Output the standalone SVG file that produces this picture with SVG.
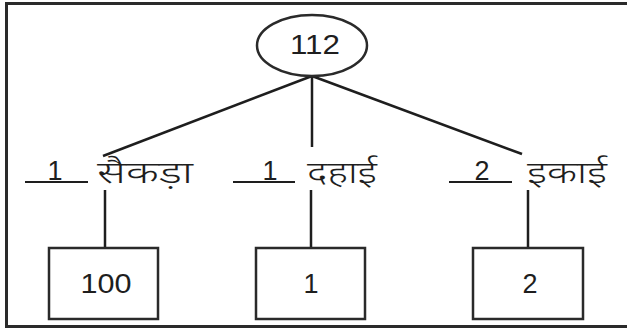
<svg xmlns="http://www.w3.org/2000/svg" width="627" height="330" viewBox="0 0 627 330">
  <style>
    .frame { fill: none; stroke: #2a2a2a; stroke-width: 3; }
    .node { fill: #ffffff; stroke: #2a2a2a; stroke-width: 2.5; }
    .edge { stroke: #1e1e1e; stroke-width: 2.5; fill: none; }
    .under { stroke: #1e1e1e; stroke-width: 2; }
    .num { font-family: "Liberation Sans", Arial, sans-serif; font-size: 27px; fill: #1e1e1e; text-anchor: middle; }
    .hi { font-family: "Noto Sans Devanagari", "Noto Sans", "Lohit Devanagari", sans-serif; font-size: 31px; font-weight: 300; fill: #1e1e1e; }
  </style>
  <rect width="627" height="330" fill="#ffffff"/>
  <path class="frame" d="M640 3.5 H6.5 V326.5 H640"/>

  <g id="connectors">
    <line class="edge" x1="312" y1="76" x2="103" y2="156"/>
    <line class="edge" x1="312" y1="76" x2="312" y2="147"/>
    <line class="edge" x1="312" y1="76" x2="522" y2="154"/>
    <line class="edge" x1="105" y1="190" x2="105" y2="248"/>
    <line class="edge" x1="311" y1="190" x2="311" y2="248"/>
    <line class="edge" x1="528" y1="190" x2="528" y2="248"/>
  </g>

  <g id="n112">
    <ellipse class="node" cx="312" cy="45.5" rx="55" ry="30.5"/>
    <text class="num" x="315" y="54" textLength="50" lengthAdjust="spacingAndGlyphs">112</text>
  </g>

  <g id="sainkda">
    <line class="under" x1="25" y1="182" x2="88" y2="182"/>
    <text class="num" x="55" y="180">1</text>
    <text class="hi" x="97" y="183" textLength="96" lengthAdjust="spacingAndGlyphs">सैकड़ा</text>
  </g>

  <g id="dahai">
    <line class="under" x1="233" y1="182" x2="295" y2="182"/>
    <text class="num" x="270" y="180">1</text>
    <text class="hi" x="307" y="183" textLength="70" lengthAdjust="spacingAndGlyphs">दहाई</text>
  </g>

  <g id="ikai">
    <line class="under" x1="449" y1="182" x2="512" y2="182"/>
    <text class="num" x="482" y="180">2</text>
    <text class="hi" x="527" y="183" textLength="80" lengthAdjust="spacingAndGlyphs">इकाई</text>
  </g>

  <g id="box100">
    <rect class="node" x="49" y="248" width="109" height="71"/>
    <text class="num" x="106" y="293" textLength="51" lengthAdjust="spacingAndGlyphs">100</text>
  </g>

  <g id="box1">
    <rect class="node" x="256" y="248" width="109" height="71"/>
    <text class="num" x="311" y="293">1</text>
  </g>

  <g id="box2">
    <rect class="node" x="473" y="248" width="110" height="71"/>
    <text class="num" x="530" y="293">2</text>
  </g>
</svg>
